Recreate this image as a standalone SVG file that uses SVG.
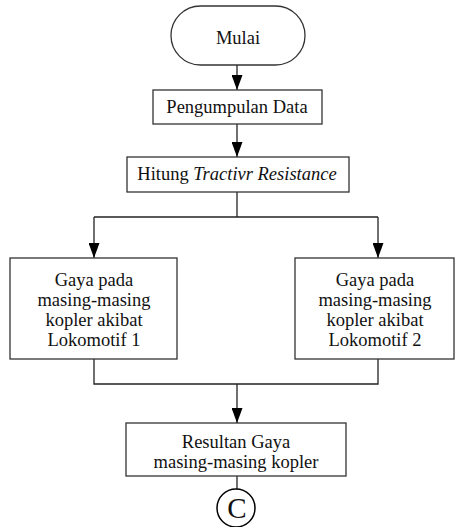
<svg xmlns="http://www.w3.org/2000/svg" width="455" height="527" viewBox="0 0 455 527">
<style>
.box{fill:#fff;stroke:#333;stroke-width:1.3}
.ln{fill:none;stroke:#222;stroke-width:1.3}
text{font-family:"Liberation Serif","Times New Roman",serif;font-size:18.5px;fill:#111;text-anchor:middle}
</style>
<defs>
<marker id="ah" viewBox="0 0 15 11" refX="15" refY="5.5" markerWidth="15" markerHeight="11" markerUnits="userSpaceOnUse" orient="auto">
<path d="M0,0 L15,5.5 L0,11 Z" fill="#000"/>
</marker>
</defs>
<g id="connectors">
<line class="ln" x1="237" y1="65" x2="237" y2="90" marker-end="url(#ah)"/>
<line class="ln" x1="237" y1="124" x2="237" y2="157" marker-end="url(#ah)"/>
<polyline class="ln" points="237,192 237,217"/>
<polyline class="ln" points="94,217 378,217"/>
<line class="ln" x1="94" y1="217" x2="94" y2="258" marker-end="url(#ah)"/>
<line class="ln" x1="378" y1="217" x2="378" y2="258" marker-end="url(#ah)"/>
<polyline class="ln" points="94,359 94,384 378,384 378,359"/>
<line class="ln" x1="237" y1="384" x2="237" y2="423" marker-end="url(#ah)"/>
<line class="ln" x1="237" y1="476" x2="237" y2="489"/>
</g>
<g id="mulai">
<rect class="box" x="171" y="6" width="134" height="59" rx="29.5" ry="29.5"/>
<text x="238" y="44">Mulai</text>
</g>
<g id="pengumpulan">
<rect class="box" x="153" y="90" width="169" height="34"/>
<text x="237" y="113">Pengumpulan Data</text>
</g>
<g id="hitung">
<rect class="box" x="127" y="157" width="222" height="35"/>
<text x="237" y="180">Hitung <tspan font-style="italic">Tractivr Resistance</tspan></text>
</g>
<g id="lok1">
<rect class="box" x="10" y="258" width="167" height="101"/>
<text x="94" y="286">Gaya pada</text>
<text x="94" y="306">masing-masing</text>
<text x="94" y="326">kopler akibat</text>
<text x="94" y="346">Lokomotif 1</text>
</g>
<g id="lok2">
<rect class="box" x="295" y="258" width="159" height="101"/>
<text x="375" y="286">Gaya pada</text>
<text x="375" y="306">masing-masing</text>
<text x="375" y="326">kopler akibat</text>
<text x="375" y="346">Lokomotif 2</text>
</g>
<g id="resultan">
<rect class="box" x="126" y="423" width="220" height="53"/>
<text x="236" y="448">Resultan Gaya</text>
<text x="236" y="468">masing-masing kopler</text>
</g>
<g id="connector-c">
<circle cx="236" cy="508" r="19" fill="#fff" stroke="#000" stroke-width="1.5"/>
<text x="237" y="518" style="font-size:29px">C</text>
</g>
</svg>
